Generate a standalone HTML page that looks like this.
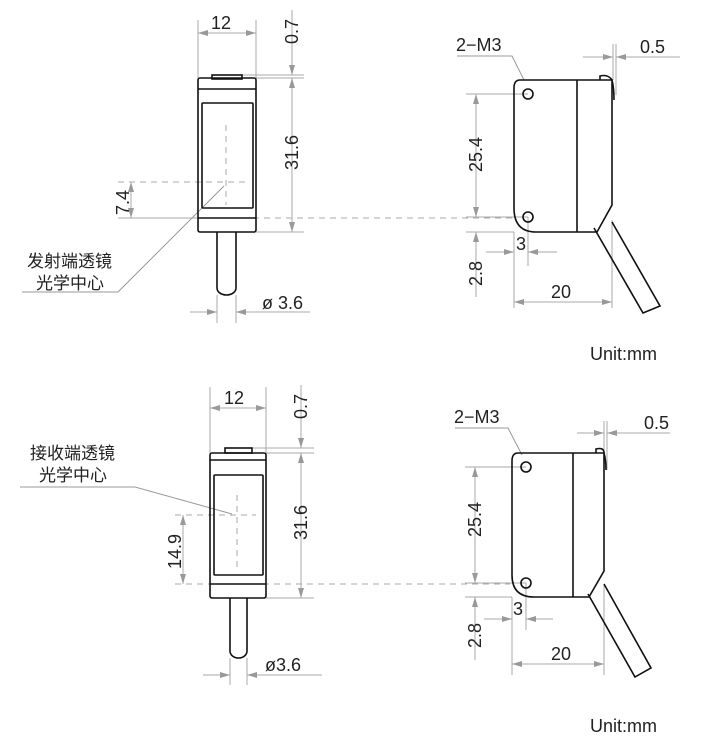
<!DOCTYPE html>
<html><head><meta charset="utf-8"><style>
html,body{margin:0;padding:0;background:#fff;}
svg{display:block}
text{font-family:"Liberation Sans","Noto Sans CJK SC",sans-serif;fill:#222;}
</style></head><body>
<svg width="717" height="747" viewBox="0 0 717 747" xmlns="http://www.w3.org/2000/svg">
<defs>
<marker id="a" viewBox="0 0 10 6" refX="10" refY="3" markerWidth="10" markerHeight="6" orient="auto-start-reverse" markerUnits="userSpaceOnUse"><path d="M0,0 L10,3 L0,6 z" fill="#999"/></marker>
</defs>
<g stroke="#aaa" stroke-width="1" fill="none">
<line x1="198" y1="20" x2="198" y2="78"/><line x1="256" y1="20" x2="256" y2="78"/>
<line x1="198" y1="33" x2="256" y2="33" marker-start="url(#a)" marker-end="url(#a)"/>
<line x1="240" y1="75" x2="304" y2="75"/><line x1="256" y1="78" x2="304" y2="78"/><line x1="256" y1="232" x2="304" y2="232"/>
<line x1="292" y1="10" x2="292" y2="75" marker-end="url(#a)"/>
<line x1="292" y1="78" x2="292" y2="232" marker-start="url(#a)" marker-end="url(#a)"/>
<line x1="118" y1="182" x2="246" y2="182" stroke-dasharray="6,5"/>
<line x1="118" y1="218" x2="198" y2="218"/>
<line x1="131" y1="182" x2="131" y2="218" marker-start="url(#a)" marker-end="url(#a)"/>
<line x1="226" y1="125" x2="226" y2="205" stroke-dasharray="6,5"/>
<line x1="198" y1="218" x2="512" y2="218" stroke-dasharray="6,5"/>
<line x1="217" y1="295" x2="217" y2="323"/><line x1="236" y1="295" x2="236" y2="323"/>
<line x1="190" y1="312" x2="217" y2="312" marker-end="url(#a)"/>
<line x1="310" y1="312" x2="236" y2="312" marker-end="url(#a)"/>
<polyline points="22,292 118,292 224,186" stroke="#999"/>
<line x1="466" y1="94" x2="528" y2="94"/><line x1="466" y1="232" x2="514" y2="232"/>
<line x1="476" y1="94" x2="476" y2="217" marker-start="url(#a)" marker-end="url(#a)"/>
<line x1="476" y1="232" x2="476" y2="297" marker-start="url(#a)"/>
<line x1="466" y1="217" x2="528" y2="217"/>
<line x1="528" y1="217" x2="528" y2="266"/><line x1="514" y1="232" x2="514" y2="308"/>
<line x1="486" y1="252" x2="514" y2="252" marker-end="url(#a)"/>
<line x1="557" y1="252" x2="528" y2="252" marker-end="url(#a)"/>
<line x1="612" y1="220" x2="612" y2="308"/>
<line x1="514" y1="302" x2="612" y2="302" marker-start="url(#a)" marker-end="url(#a)"/>
<line x1="613" y1="44" x2="613" y2="80"/><line x1="616" y1="44" x2="616" y2="95"/>
<line x1="583" y1="57" x2="613" y2="57" marker-end="url(#a)"/>
<line x1="680" y1="57" x2="616" y2="57" marker-end="url(#a)"/>
<polyline points="457,56 512,56 524,80" stroke="#999"/>
<line x1="210" y1="387" x2="210" y2="453"/><line x1="266" y1="387" x2="266" y2="453"/>
<line x1="210" y1="408" x2="266" y2="408" marker-start="url(#a)" marker-end="url(#a)"/>
<line x1="252" y1="448" x2="314" y2="448"/><line x1="266" y1="453" x2="314" y2="453"/><line x1="266" y1="598" x2="314" y2="598"/>
<line x1="301" y1="385" x2="301" y2="448" marker-end="url(#a)"/>
<line x1="301" y1="453" x2="301" y2="598" marker-start="url(#a)" marker-end="url(#a)"/>
<line x1="175" y1="515" x2="256" y2="515" stroke-dasharray="6,5"/>
<line x1="237" y1="495" x2="237" y2="570" stroke-dasharray="6,5"/>
<line x1="183" y1="515" x2="183" y2="584" marker-start="url(#a)" marker-end="url(#a)"/>
<line x1="175" y1="584" x2="510" y2="584" stroke-dasharray="6,5"/>
<line x1="230" y1="658" x2="230" y2="685"/><line x1="247" y1="658" x2="247" y2="685"/>
<line x1="203" y1="675" x2="230" y2="675" marker-end="url(#a)"/>
<line x1="322" y1="675" x2="247" y2="675" marker-end="url(#a)"/>
<polyline points="20,487 135,487 232,514" stroke="#999"/>
<line x1="465" y1="467" x2="526" y2="467"/><line x1="465" y1="597" x2="512" y2="597"/>
<line x1="475" y1="467" x2="475" y2="583" marker-start="url(#a)" marker-end="url(#a)"/>
<line x1="475" y1="597" x2="475" y2="660" marker-start="url(#a)"/>
<line x1="465" y1="583" x2="526" y2="583"/>
<line x1="526" y1="583" x2="526" y2="630"/><line x1="512" y1="597" x2="512" y2="675"/>
<line x1="484" y1="619" x2="512" y2="619" marker-end="url(#a)"/>
<line x1="553" y1="619" x2="526" y2="619" marker-end="url(#a)"/>
<line x1="604" y1="585" x2="604" y2="675"/>
<line x1="512" y1="664" x2="604" y2="664" marker-start="url(#a)" marker-end="url(#a)"/>
<line x1="604" y1="421" x2="604" y2="455"/><line x1="607" y1="421" x2="607" y2="470"/>
<line x1="577" y1="433" x2="604" y2="433" marker-end="url(#a)"/>
<line x1="670" y1="433" x2="607" y2="433" marker-end="url(#a)"/>
<polyline points="455,428 508,428 522,455" stroke="#999"/>
</g>
<g stroke="#111" stroke-width="1.6" fill="none">
<rect x="212" y="75" width="30" height="4" fill="#fff"/>
<rect x="198" y="78" width="58" height="154" rx="2"/>
<line x1="198" y1="89" x2="256" y2="89"/><line x1="198" y1="218" x2="256" y2="218"/>
<rect x="202" y="103" width="51" height="105" rx="1"/>
<path d="M217,232 V288 a9.5,7 0 0 0 19,0 V232"/>
<path d="M520,80 H602 M514,88 Q514,80 520,80 M514,88 V208 Q514,232 536,232 H597 L612,205 V80 H602"/>
<line x1="577" y1="80" x2="577" y2="232"/>
<path d="M600,80 V76 Q608,74 612,80 Q614,88 614,100"/>
<circle cx="528" cy="94" r="5"/><circle cx="528" cy="217" r="5"/>
<path d="M594,228 L643,313 L660,306 L612,222"/>
<rect x="225" y="448" width="27" height="5" fill="#fff"/>
<rect x="210" y="453" width="56" height="145" rx="2"/>
<line x1="210" y1="460" x2="266" y2="460"/><line x1="210" y1="584" x2="266" y2="584"/>
<rect x="214" y="475" width="49" height="100" rx="1"/>
<path d="M230,598 V651 a8.5,7 0 0 0 17,0 V598"/>
<path d="M518,453 H598 M512,461 Q512,453 518,453 M512,461 V575 Q512,597 534,597 H589 L604,571 V453 H598"/>
<line x1="573" y1="453" x2="573" y2="597"/>
<path d="M596,453 V449 Q604,447 604,453 Q606,460 606,470"/>
<circle cx="526" cy="467" r="5"/><circle cx="526" cy="583" r="5"/>
<path d="M588,594 L635,677 L651,668 L604,584"/>
</g>
<g font-size="18">
<text x="211" y="29">12</text>
<text transform="translate(298,44) rotate(-90)">0.7</text>
<text transform="translate(298,170) rotate(-90)">31.6</text>
<text transform="translate(129,215) rotate(-90)">7.4</text>
<text x="262" y="309">ø 3.6</text>
<text x="27" y="267" font-size="17">发射端透镜</text>
<text x="36" y="289" font-size="17">光学中心</text>
<text x="456" y="51">2−M3</text>
<text x="640" y="53">0.5</text>
<text transform="translate(482,172) rotate(-90)">25.4</text>
<text transform="translate(482,286) rotate(-90)">2.8</text>
<text x="516" y="250">3</text>
<text x="551" y="298">20</text>
<text x="590" y="360">Unit:mm</text>
<text x="224" y="404">12</text>
<text transform="translate(307,419) rotate(-90)">0.7</text>
<text transform="translate(307,540) rotate(-90)">31.6</text>
<text transform="translate(181,569) rotate(-90)">14.9</text>
<text x="265" y="671">ø3.6</text>
<text x="30" y="459" font-size="17">接收端透镜</text>
<text x="39" y="481" font-size="17">光学中心</text>
<text x="454" y="423">2−M3</text>
<text x="644" y="429">0.5</text>
<text transform="translate(481,537) rotate(-90)">25.4</text>
<text transform="translate(481,648) rotate(-90)">2.8</text>
<text x="513" y="615">3</text>
<text x="551" y="660">20</text>
<text x="590" y="732">Unit:mm</text>
</g>
</svg>
</body></html>
